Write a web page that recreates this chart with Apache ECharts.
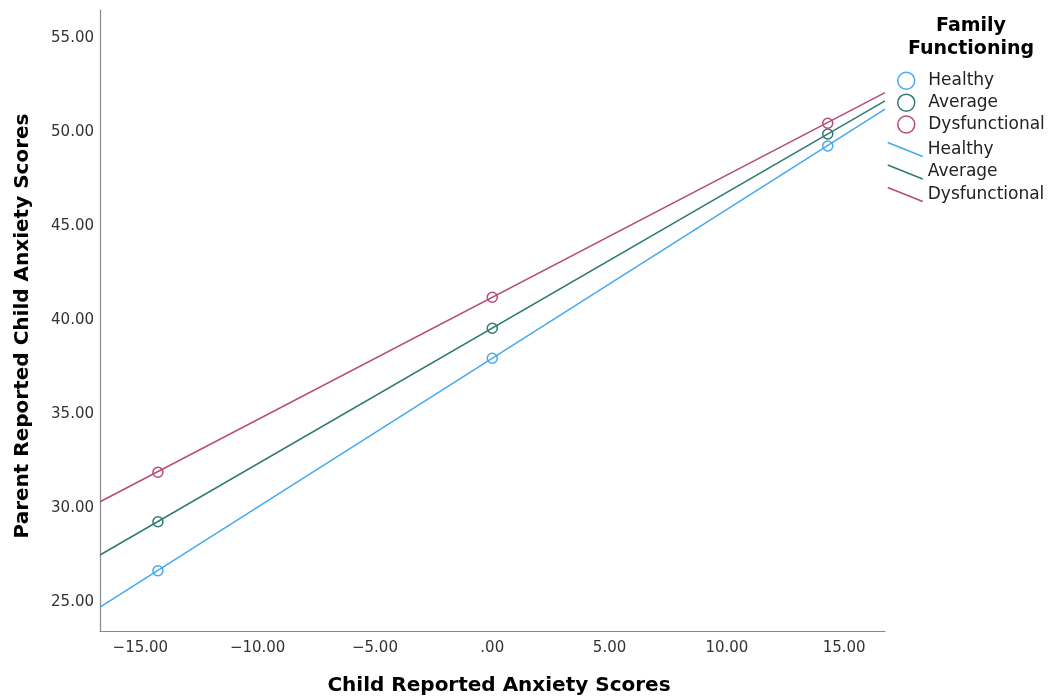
<!DOCTYPE html>
<html>
<head>
<meta charset="utf-8">
<script src="https://cdn.jsdelivr.net/npm/echarts@6/dist/echarts.min.js"></script>
<style>html,body{margin:0;padding:0;background:#fff;}#c{width:1054px;height:697px;}</style>
</head>
<body>
<div id="c"></div>
<script>
// ---- data ----
const groups = ['Healthy', 'Average', 'Dysfunctional'];
const xPoints = [-14.25, 0, 14.3];
const healthyPts = [26.66, 37.96, 49.24];
const averagePts = [29.27, 39.55, 49.88];
const dysfunctionalPts = [31.9, 41.2, 50.45];
const lineX = [-16.72, 16.74];
const healthyLine = [24.73, 51.2];
const averageLine = [27.5, 51.64];
const dysfunctionalLine = [30.33, 52.08];
const xTickValues = [-15, -10, -5, 0, 5, 10, 15];
const xTickLabels = ['\u221215.00', '\u221210.00', '\u22125.00', '.00', '5.00', '10.00', '15.00'];
const yTickValues = [25, 30, 35, 40, 45, 50, 55];
const yTickLabels = ['25.00', '30.00', '35.00', '40.00', '45.00', '50.00', '55.00'];
const xRange = [-16.72, 16.74];
const yRange = [23.46, 56.47];

const colors = ['#45a8f0', '#2d7b70', '#b84a78'];
const pts = [healthyPts, averagePts, dysfunctionalPts];
const lines = [healthyLine, averageLine, dysfunctionalLine];
const FONT = 'DejaVu Sans';

const series = [];
groups.forEach((g, i) => {
  series.push({
    name: g + ' (line)', type: 'line', showSymbol: false, symbol: 'none',
    lineStyle: { color: colors[i], width: 1.5 }, itemStyle: { color: colors[i] },
    data: lineX.map((x, k) => [x, lines[i][k]]), z: 2
  });
});
groups.forEach((g, i) => {
  series.push({
    name: g, type: 'scatter', symbol: 'circle', symbolSize: 10,
    itemStyle: { color: 'rgba(0,0,0,0)', borderColor: colors[i], borderWidth: 1.5, opacity: 1 },
    data: xPoints.map((x, k) => [x, pts[i][k]]), z: 3
  });
});

const chart = echarts.init(document.getElementById('c'), null, { renderer: 'canvas' });
chart.setOption({
  animation: false,
  backgroundColor: '#fff',
  grid: { left: 100, right: 169, top: 10, bottom: 66, containLabel: false, outerBoundsMode: 'none' },
  xAxis: {
    type: 'value', min: xRange[0], max: xRange[1],
    name: 'Child Reported Anxiety Scores', nameLocation: 'middle', nameGap: 45,
    nameTextStyle: { fontFamily: FONT, fontSize: 20, fontWeight: 'bold', color: '#000', padding: [0, 0, 0, 13] },
    axisLine: { show: true, onZero: false, lineStyle: { color: '#888', width: 1.2 } },
    axisTick: { show: false },
    splitLine: { show: false },
    axisLabel: {
      customValues: xTickValues, margin: 10,
      fontFamily: FONT, fontSize: 15, color: '#333',
      formatter: v => { const k = xTickValues.indexOf(Math.round(v)); return k >= 0 ? xTickLabels[k] : ''; }
    }
  },
  yAxis: {
    type: 'value', min: yRange[0], max: yRange[1],
    name: 'Parent Reported Child Anxiety Scores', nameLocation: 'middle', nameGap: 67,
    nameTextStyle: { fontFamily: FONT, fontSize: 20, fontWeight: 'bold', color: '#000', padding: [0, 11, 0, 0] },
    axisLine: { show: true, onZero: false, lineStyle: { color: '#888', width: 1.2 } },
    axisTick: { show: false },
    splitLine: { show: false },
    axisLabel: {
      customValues: yTickValues, margin: 6,
      fontFamily: FONT, fontSize: 15, color: '#333',
      formatter: v => { const k = yTickValues.indexOf(Math.round(v)); return k >= 0 ? yTickLabels[k] : ''; }
    }
  },
  graphic: [{
    type: 'text', x: 971, y: 15,
    style: { text: 'Family\nFunctioning', textAlign: 'center', font: 'bold 19px "DejaVu Sans"', lineHeight: 23, fill: '#000' }
  }],
  legend: [
    {
      orient: 'vertical', left: 892, top: 66.5, itemWidth: 34, itemHeight: 17, itemGap: 3.4,
      textStyle: { fontFamily: FONT, fontSize: 17, color: '#222' },
      data: groups.map((g, i) => ({ name: g, icon: 'circle', itemStyle: { color: 'rgba(0,0,0,0)', borderColor: colors[i], borderWidth: 1.5 } }))
    },
    {
      orient: 'vertical', left: 882, top: 136, itemWidth: 35, itemHeight: 14, itemGap: 5.5,
      textStyle: { fontFamily: FONT, fontSize: 17, color: '#222' },
      formatter: n => n.replace(' (line)', ''),
      data: groups.map((g, i) => ({ name: g + ' (line)', icon: 'path://M0,0L35,14', itemStyle: { color: 'rgba(0,0,0,0)', borderColor: colors[i], borderWidth: 1.5 } }))
    }
  ],
  series: series
});
</script>
</body>
</html>
